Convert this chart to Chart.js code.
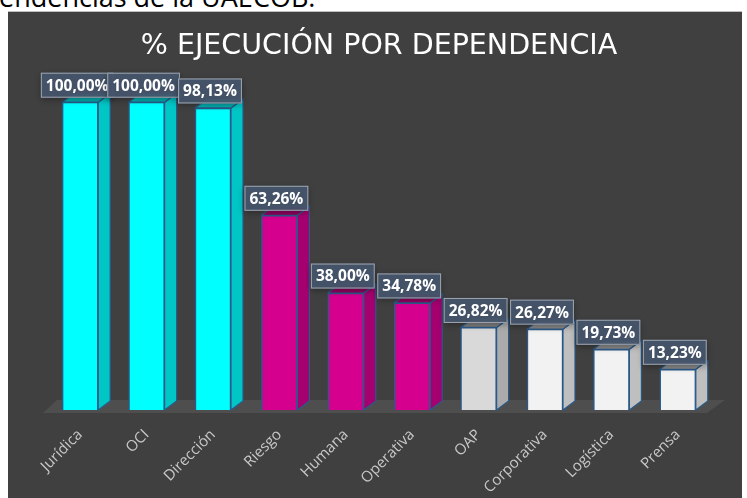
<!DOCTYPE html>
<html lang="es">
<head>
  <meta charset="UTF-8">
  <title>% Ejecución por dependencia</title>
  <script src="https://cdn.jsdelivr.net/npm/chart.js"></script>
  <style>
    body {
      margin: 0;
      background: #ffffff;
      width: 747px;
      height: 498px;
      overflow: hidden;
      position: relative;
      font-family: 'Open Sans', sans-serif;
    }
    .intro {
      position: absolute;
      left: -1px;
      top: -17px;
      font-size: 27px;
      line-height: 1;
      color: #000;
      white-space: nowrap;
    }
    .panel {
      position: absolute;
      left: 8px;
      top: 11px;
      width: 734px;
      height: 487px;
      background: #404040;
      border-top: 1px solid #bfbfbf;
    }
  </style>
</head>
<body>
  <div class="intro">endencias de la UAECOB.</div>
  <div class="panel">
    <canvas id="ejecucionChart" width="734" height="487"></canvas>
  </div>

  <script>
    // datos de la grafica
    const dependencias = ['Jurídica', 'OCI', 'Dirección', 'Riesgo', 'Humana', 'Operativa', 'OAP', 'Corporativa', 'Logística', 'Prensa'];
    const ejecucion = [100.00, 100.00, 98.13, 63.26, 38.00, 34.78, 26.82, 26.27, 19.73, 13.23];

    // colores por barra: cara frontal, lateral y superior
    const colorFrente = ['#00FFFF', '#00FFFF', '#00FFFF', '#D6008F', '#D6008F', '#D6008F', '#D9D9D9', '#F2F2F2', '#F2F2F2', '#F2F2F2'];
    const colorLado = ['#00C6C6', '#00C6C6', '#00C6C6', '#A5006F', '#A5006F', '#A5006F', '#ABABAB', '#BFBFBF', '#BFBFBF', '#BFBFBF'];
    const colorTapa = ['#00AFAF', '#00AFAF', '#00AFAF', '#93005F', '#93005F', '#93005F', '#7F7F7F', '#8C8C8C', '#8C8C8C', '#8C8C8C'];
    const borde = '#2A5A8A';

    const PROF_X = 12; // profundidad del efecto 3D
    const PROF_Y = 9;

    function formato(v) {
      return v.toFixed(2).replace('.', ',') + '%';
    }

    // piso gris debajo de las barras
    const pisoPlugin = {
      id: 'piso',
      beforeDatasetsDraw(chart) {
        const ctx = chart.ctx;
        const a = chart.chartArea;
        ctx.save();
        ctx.fillStyle = '#4E4E4E';
        ctx.beginPath();
        ctx.moveTo(a.left - 4, a.bottom + 3);
        ctx.lineTo(a.right - 4, a.bottom + 3);
        ctx.lineTo(a.right + 14, a.bottom - 10);
        ctx.lineTo(a.left + 10, a.bottom - 10);
        ctx.closePath();
        ctx.fill();
        ctx.restore();
      }
    };

    // caras lateral y superior de cada barra
    const cubosPlugin = {
      id: 'cubos',
      afterDatasetsDraw(chart) {
        const ctx = chart.ctx;
        const meta = chart.getDatasetMeta(0);
        ctx.save();
        ctx.lineWidth = 1.2;
        ctx.strokeStyle = borde;
        ctx.lineJoin = 'round';
        meta.data.forEach((bar, i) => {
          const p = bar.getProps(['x', 'y', 'base', 'width'], true);
          const izq = p.x - p.width / 2;
          const der = p.x + p.width / 2;
          // lateral
          ctx.fillStyle = colorLado[i];
          ctx.beginPath();
          ctx.moveTo(der, p.y);
          ctx.lineTo(der + PROF_X, p.y - PROF_Y);
          ctx.lineTo(der + PROF_X, p.base - PROF_Y);
          ctx.lineTo(der, p.base);
          ctx.closePath();
          ctx.fill();
          ctx.stroke();
          // tapa
          ctx.fillStyle = colorTapa[i];
          ctx.beginPath();
          ctx.moveTo(izq, p.y);
          ctx.lineTo(izq + PROF_X, p.y - PROF_Y);
          ctx.lineTo(der + PROF_X, p.y - PROF_Y);
          ctx.lineTo(der, p.y);
          ctx.closePath();
          ctx.fill();
          ctx.stroke();
        });
        ctx.restore();
      }
    };

    // etiquetas con recuadro encima de cada barra
    const etiquetasPlugin = {
      id: 'etiquetas',
      afterDatasetsDraw(chart) {
        const ctx = chart.ctx;
        const meta = chart.getDatasetMeta(0);
        ctx.save();
        ctx.font = 'bold 15.5px "Open Sans", sans-serif';
        ctx.textAlign = 'center';
        ctx.textBaseline = 'middle';
        meta.data.forEach((bar, i) => {
          const txt = formato(ejecucion[i]);
          const w = ctx.measureText(txt).width + 10;
          const h = 25;
          const cx = bar.x - 3;
          const cy = bar.y - 17;
          ctx.shadowColor = 'rgba(0,0,0,0.35)';
          ctx.shadowBlur = 6;
          ctx.shadowOffsetY = 2;
          ctx.fillStyle = 'rgba(70, 86, 108, 0.92)';
          ctx.fillRect(cx - w / 2, cy - h / 2, w, h);
          ctx.shadowColor = 'transparent';
          ctx.strokeStyle = '#9EA6B0';
          ctx.lineWidth = 1;
          ctx.strokeRect(cx - w / 2 + 0.5, cy - h / 2 + 0.5, w - 1, h - 1);
          ctx.fillStyle = '#FFFFFF';
          ctx.fillText(txt, cx, cy + 1);
        });
        ctx.restore();
      }
    };

    const ctx = document.getElementById('ejecucionChart').getContext('2d');
    new Chart(ctx, {
      type: 'bar',
      data: {
        labels: dependencias,
        datasets: [{
          data: ejecucion,
          backgroundColor: colorFrente,
          borderColor: borde,
          borderWidth: 1.5,
          barThickness: 36
        }]
      },
      options: {
        responsive: false,
        animation: false,
        layout: {
          padding: { left: 39, right: 31, top: 0, bottom: 0 }
        },
        scales: {
          x: {
            grid: { display: false },
            border: { display: false },
            ticks: {
              color: '#C8C8C8',
              font: { family: '"Open Sans", sans-serif', size: 15 },
              minRotation: 45,
              maxRotation: 45,
              padding: 8
            },
            afterFit(scale) { scale.height = 89; }
          },
          y: {
            display: false,
            min: 0,
            max: 100
          }
        },
        plugins: {
          legend: { display: false },
          tooltip: { enabled: false },
          title: {
            display: true,
            text: '% EJECUCIÓN POR DEPENDENCIA',
            color: '#FFFFFF',
            font: { family: '"DejaVu Sans", sans-serif', size: 28.5, weight: 'normal' },
            padding: { top: 17, bottom: 39 }
          }
        }
      },
      plugins: [pisoPlugin, cubosPlugin, etiquetasPlugin]
    });
  </script>
</body>
</html>
